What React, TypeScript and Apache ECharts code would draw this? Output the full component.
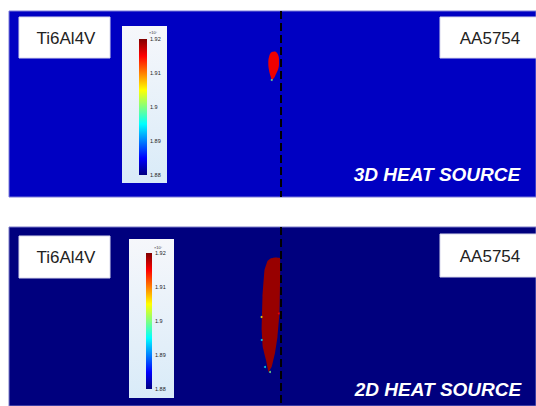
import React, { useEffect, useRef } from "react";
import * as echarts from "echarts";

// ---- data ----
const panelTitles = ["3D HEAT SOURCE", "2D HEAT SOURCE"];
const leftMaterial = "Ti6Al4V";
const rightMaterial = "AA5754";
const colorbarTicks = [1.88, 1.89, 1.9, 1.91, 1.92];
const colorbarExponent = "×10⁷";
const xRange = [-27.2, 25.5]; // mm, interface at 0
const interfaceX = 0;
const topDepth = 18.6;
const bottomDepth = 17.9;

// melt-pool outlines [x (mm), depth (mm)]
const meltPool3D: number[][] = [
  [-0.77, 4.07], [-0.5, 4.1], [-0.25, 4.5], [-0.2, 5.1], [-0.25, 5.7],
  [-0.5, 6.3], [-0.7, 6.7], [-0.9, 6.85], [-1.05, 6.5], [-1.2, 5.9],
  [-1.27, 5.2], [-1.2, 4.6], [-1.0, 4.15],
];
const meltPool2D: number[][] = [
  [-1.05, 3.15], [-0.6, 3.05], [-0.1, 3.1], [-0.08, 4.8], [-0.15, 8.6],
  [-0.35, 10.97], [-0.6, 12.6], [-0.93, 13.97], [-1.25, 14.5], [-1.5, 13.3],
  [-1.83, 11.97], [-1.93, 10.3], [-1.85, 6.97], [-1.65, 4.3], [-1.35, 3.4],
];
// edge speckles [x, depth, value(x1e7)]
const speckles3D: number[][] = [[-0.93, 6.9, 1.9]];
const speckles2D: number[][] = [
  [-0.22, 8.65, 1.915], [-1.93, 11.3, 1.895], [-1.6, 14.0, 1.895],
  [-1.1, 14.5, 1.9], [-1.95, 9.0, 1.905],
];

const jetStops: [number, number[]][] = [
  [0, [0, 0, 128]], [0.125, [0, 0, 255]], [0.375, [0, 255, 255]],
  [0.625, [255, 255, 0]], [0.875, [255, 0, 0]], [1, [128, 0, 0]],
];

function jet(t: number) {
  t = Math.max(0, Math.min(1, t));
  for (let i = 1; i < jetStops.length; i++) {
    const [t1, c1] = jetStops[i];
    const [t0, c0] = jetStops[i - 1];
    if (t <= t1) {
      const f = (t - t0) / (t1 - t0);
      const c = c0.map((v, k) => Math.round(v + (c1[k] - v) * f));
      return `rgb(${c[0]},${c[1]},${c[2]})`;
    }
  }
  return "rgb(128,0,0)";
}

function barGradient() {
  return new echarts.graphic.LinearGradient(
    0, 0, 0, 1,
    jetStops.map(([t, c]) => ({ offset: 1 - t, color: `rgb(${c[0]},${c[1]},${c[2]})` })).reverse()
  );
}
function boxGradient() {
  return new echarts.graphic.LinearGradient(0, 0, 0, 1, [
    { offset: 0, color: "#f6f7fb" },
    { offset: 1, color: "#d9ebf8" },
  ]);
}

const cMin = colorbarTicks[0];
const cMax = colorbarTicks[colorbarTicks.length - 1];

export default function App() {
  const ref = useRef<HTMLDivElement>(null);
  useEffect(() => {
    if (!ref.current) return;
    const chart = echarts.init(ref.current, null, { renderer: "svg" });

    const poly = (pts: number[][], fill: string, smooth: number) =>
      (params: any, api: any) => ({
        type: "polygon",
        shape: { points: pts.map((p) => api.coord(p)), smooth },
        style: { fill },
      });

    const cbAxis = (gridIndex: number) => ({
      gridIndex,
      type: "value",
      min: cMin,
      max: cMax,
      interval: 0.01,
      position: "right",
      axisLine: { show: false },
      axisTick: { show: false },
      splitLine: { show: false },
      axisLabel: { fontSize: 5.5, color: "#222", margin: 3, fontFamily: "Liberation Sans" },
      z: 3,
    });

    const labelFont = '17px "Liberation Sans", Arial, sans-serif';
    const titleFont = 'italic bold 19px "Liberation Sans", Arial, sans-serif';

    const option: any = {
      animation: false,
      grid: [
        { left: 9, top: 11, width: 527, height: 186, show: true, backgroundColor: "#0000c2", borderColor: "#7a7ad8", borderWidth: 1, z: 0 },
        { left: 9, top: 227, width: 527, height: 179, show: true, backgroundColor: "#00007e", borderColor: "#7a7ac8", borderWidth: 1, z: 0 },
        { left: 139, top: 39, width: 8, height: 136, show: true, backgroundColor: barGradient(), borderWidth: 0, z: 2 },
        { left: 146, top: 253, width: 6, height: 136, show: true, backgroundColor: barGradient(), borderWidth: 0, z: 2 },
      ],
      xAxis: [
        { gridIndex: 0, type: "value", min: xRange[0], max: xRange[1], show: false },
        { gridIndex: 1, type: "value", min: xRange[0], max: xRange[1], show: false },
        { gridIndex: 2, type: "value", min: 0, max: 1, show: false },
        { gridIndex: 3, type: "value", min: 0, max: 1, show: false },
      ],
      yAxis: [
        { gridIndex: 0, type: "value", min: 0, max: topDepth, inverse: true, show: false },
        { gridIndex: 1, type: "value", min: 0, max: bottomDepth, inverse: true, show: false },
        cbAxis(2),
        cbAxis(3),
      ],
      series: [
        { type: "custom", xAxisIndex: 0, yAxisIndex: 0, data: [meltPool3D[0]], renderItem: poly(meltPool3D, "#f00000", 0.4), z: 2, silent: true },
        { type: "custom", xAxisIndex: 1, yAxisIndex: 1, data: [meltPool2D[0]], renderItem: poly(meltPool2D, "#980000", 0.05), z: 2, silent: true },
        {
          type: "scatter", xAxisIndex: 0, yAxisIndex: 0, data: speckles3D, symbolSize: 2, z: 3, silent: true,
          itemStyle: { color: (p: any) => jet((p.value[2] - cMin) / (cMax - cMin)) },
        },
        {
          type: "scatter", xAxisIndex: 1, yAxisIndex: 1, data: speckles2D, symbolSize: 2, z: 3, silent: true,
          itemStyle: { color: (p: any) => jet((p.value[2] - cMin) / (cMax - cMin)) },
        },
        {
          type: "line", xAxisIndex: 0, yAxisIndex: 0, data: [[interfaceX, 0], [interfaceX, topDepth]],
          symbol: "none", lineStyle: { color: "#000", width: 2, type: [8, 4] }, z: 4, silent: true,
        },
        {
          type: "line", xAxisIndex: 1, yAxisIndex: 1, data: [[interfaceX, 0], [interfaceX, bottomDepth]],
          symbol: "none", lineStyle: { color: "#000", width: 2, type: [8, 4] }, z: 4, silent: true,
        },
      ],
      graphic: [
        // material boxes
        { type: "rect", z: 1, shape: { x: 19, y: 17, width: 91, height: 41 }, style: { fill: "#fff", stroke: "#d8d8ec", lineWidth: 1 } },
        { type: "rect", z: 1, shape: { x: 440, y: 17, width: 100, height: 41 }, style: { fill: "#fff", stroke: "#d8d8ec", lineWidth: 1 } },
        { type: "rect", z: 1, shape: { x: 19, y: 236, width: 91, height: 42 }, style: { fill: "#fff", stroke: "#d8d8ec", lineWidth: 1 } },
        { type: "rect", z: 1, shape: { x: 440, y: 234, width: 100, height: 43 }, style: { fill: "#fff", stroke: "#d8d8ec", lineWidth: 1 } },
        // colorbar boxes
        { type: "rect", z: 1, shape: { x: 122, y: 26, width: 45, height: 157 }, style: { fill: boxGradient() } },
        { type: "rect", z: 1, shape: { x: 129, y: 239, width: 45, height: 159 }, style: { fill: boxGradient() } },
        // texts
        { type: "text", z: 5, style: { text: leftMaterial, x: 66, y: 38, textAlign: "center", textVerticalAlign: "middle", font: labelFont, fill: "#222" } },
        { type: "text", z: 5, style: { text: rightMaterial, x: 490, y: 38.5, textAlign: "center", textVerticalAlign: "middle", font: labelFont, fill: "#222" } },
        { type: "text", z: 5, style: { text: leftMaterial, x: 66, y: 257, textAlign: "center", textVerticalAlign: "middle", font: labelFont, fill: "#222" } },
        { type: "text", z: 5, style: { text: rightMaterial, x: 490, y: 256, textAlign: "center", textVerticalAlign: "middle", font: labelFont, fill: "#222" } },
        { type: "text", z: 5, style: { text: panelTitles[0], x: 437, y: 174, textAlign: "center", textVerticalAlign: "middle", font: titleFont, fill: "#fff" } },
        { type: "text", z: 5, style: { text: panelTitles[1], x: 438, y: 389, textAlign: "center", textVerticalAlign: "middle", font: titleFont, fill: "#fff" } },
        { type: "text", z: 5, style: { text: colorbarExponent, x: 153, y: 32, textAlign: "center", textVerticalAlign: "middle", font: '4px "Liberation Sans"', fill: "#333" } },
        { type: "text", z: 5, style: { text: colorbarExponent, x: 158, y: 247, textAlign: "center", textVerticalAlign: "middle", font: '4px "Liberation Sans"', fill: "#333" } },
      ],
    };

    chart.setOption(option);
    return () => chart.dispose();
  }, []);

  return (
    <div
      ref={ref}
      style={{ position: "fixed", left: 0, top: 0, width: 536, height: 406, background: "#fff" }}
    />
  );
}
